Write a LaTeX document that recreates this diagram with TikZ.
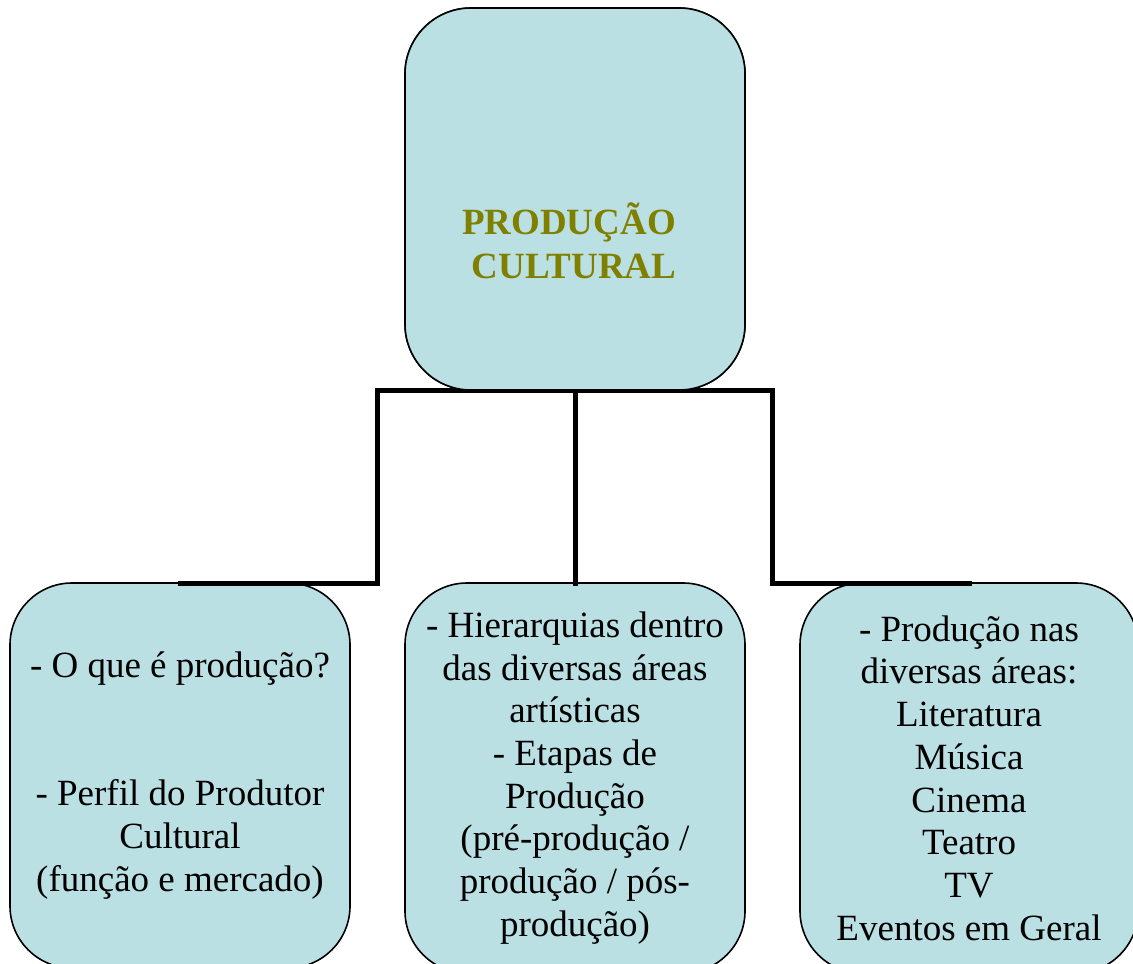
\documentclass[tikz,border=0pt]{standalone}
\usepackage{fontspec}
\setmainfont{Liberation Serif}
\definecolor{boxfill}{RGB}{187,224,227}
\definecolor{titlecol}{RGB}{128,128,0}
\begin{document}
\begin{tikzpicture}[x=1pt,y=-1pt,
  box/.style={draw=black, line width=1.6pt, fill=boxfill, rounded corners=62pt,
    inner sep=0pt, outer sep=0pt, align=center,
    font=\fontsize{37}{42.7}\selectfont},
  conn/.style={draw=black, line width=5pt, line cap=rect}
]
\useasboundingbox (0,0) rectangle (1133,964);
\clip (0,0) rectangle (1133,964);
% junction coordinates
\coordinate (jl) at (377,392);
\coordinate (jr) at (772,392);
% boxes (drawn first, connectors after, then top box over)
\node[box, minimum width=340pt, minimum height=385pt] (left) at (180,775.5)
  {- O que é produção?\\[85.4pt]- Perfil do Produtor\\Cultural\\(função e mercado)};
\node[box, minimum width=340pt, minimum height=390pt] (mid) at (575,778)
  {- Hierarquias dentro\\das diversas áreas\\artísticas\\- Etapas de\\Produção\\(pré-produção /\\produção / pós-\\produção)};
\node[box, minimum width=338pt, minimum height=390pt] (right) at (969,778)
  {- Produção nas\\diversas áreas:\\Literatura\\Música\\Cinema\\Teatro\\TV\\Eventos em Geral};
\node[box, rounded corners=66pt, minimum width=340pt, minimum height=382pt] (top) at (575,199) {};
% connectors
\draw[conn] (top.south) -- (top.south -| jl) -- (jl |- left.north) -- (left.north);
\draw[conn] (top.south) -- (mid.north);
\draw[conn] (top.south) -- (top.south -| jr) -- (jr |- right.north) -- (right.north);
% top box redrawn on top of connector joints
\node[box, rounded corners=66pt, minimum width=340pt, minimum height=382pt] at (top) {};
\node[font=\fontsize{37}{44}\selectfont\bfseries, text=titlecol, align=center] (title) at (574,241)
  {PRODUÇÃO\hspace*{10pt}\\CULTURAL};
\end{tikzpicture}
\end{document}
